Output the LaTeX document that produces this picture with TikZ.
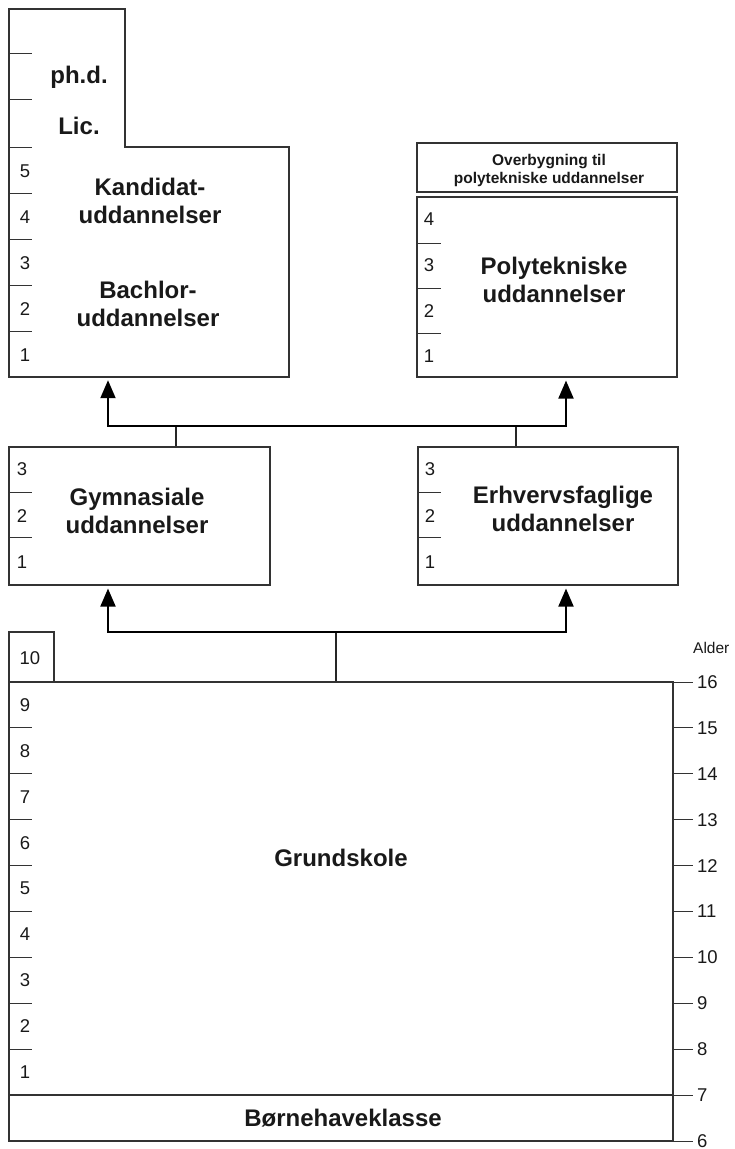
\documentclass[tikz,border=0pt]{standalone}
\usepackage{fontspec}
\setmainfont{Liberation Sans}
\usetikzlibrary{arrows.meta}
\begin{document}
\begin{tikzpicture}[x=1pt,y=-1pt,
  outline/.style={draw=black!80, line width=1.1pt},
  box/.style={outline, rectangle, inner sep=0pt},
  yr/.style={font=\fontsize{18.5}{18.5}\selectfont, text=black!90, inner sep=0pt},
  age/.style={font=\fontsize{18.5}{18.5}\selectfont, text=black!90, inner sep=0pt, anchor=west},
  lbl/.style={font=\bfseries\fontsize{24}{27.5}\selectfont, align=center, text=black!90, inner sep=0pt},
  small/.style={font=\bfseries\fontsize{15.5}{18}\selectfont, align=center, text=black!90, inner sep=0pt},
  tickmark/.style={draw=black!80, line width=0.9pt},
  stem/.style={draw=black!85, line width=1.1pt},
  conn/.style={draw=black, line width=1.9pt},
  arr/.style={conn, -{Triangle[width=15pt,length=18pt]}, shorten >=3pt},
]
\useasboundingbox (0,0) rectangle (735,1149);

% ---------- University: kandidat / bachelor with ph.d. and lic. on top
\node[inner sep=0pt, minimum width=280pt, minimum height=230pt] (uni) at (149,262) {};
\draw[outline] (9,9) -- (125,9) -- (125,147) -- (289,147) -- (289,377) -- (9,377) -- cycle;
\foreach \yy in {53,99,147,193,239,285,331} \draw[tickmark] (9,\yy) -- (32,\yy);
\foreach \n/\yy in {5/171,4/217,3/263,2/309,1/355} \node[yr] (u\n) at (25,\yy) {\n};
\node[lbl] (phd) at (79,77) {ph.d.};
\node[lbl] (lic) at (79,126) {Lic.};
\node[lbl] (kand) at (150,201) {Kandidat-\\uddannelser};
\node[lbl] (bach) at (148,304) {Bachlor-\\uddannelser};

% ---------- Polytechnic programmes
\node[box, minimum width=260pt, minimum height=49pt] (over) at (547,167.5) {};
\node[small] (overtxt) at (549,170.5) {Overbygning til\\polytekniske uddannelser};
\node[box, minimum width=260pt, minimum height=180pt] (poly) at (547,287) {};
\foreach \yy in {243,288,333} \draw[tickmark] (417,\yy) -- (441,\yy);
\foreach \n/\yy in {4/219,3/265,2/311,1/356} \node[yr] (p\n) at (429,\yy) {\n};
\node[lbl] (polytxt) at (554,280) {Polytekniske\\uddannelser};

% ---------- Upper secondary
\node[box, minimum width=261pt, minimum height=138pt] (gym) at (139.5,516) {};
\foreach \yy in {492,537} \draw[tickmark] (9,\yy) -- (32,\yy);
\foreach \n/\yy in {3/469,2/516,1/562} \node[yr] (g\n) at (22,\yy) {\n};
\node[lbl] (gymtxt) at (137,511) {Gymnasiale\\uddannelser};

\node[box, minimum width=260pt, minimum height=138pt] (erh) at (548,516) {};
\foreach \yy in {492,537} \draw[tickmark] (418,\yy) -- (441,\yy);
\foreach \n/\yy in {3/469,2/516,1/562} \node[yr] (e\n) at (430,\yy) {\n};
\node[lbl] (erhtxt) at (563,509) {Erhvervsfaglige\\uddannelser};

% ---------- Primary school and kindergarten class
\node[box, minimum width=45pt, minimum height=50pt] (ten) at (31.5,657) {};
\node[yr] (tentxt) at (30,658) {10};
\node[box, minimum width=664pt, minimum height=413pt] (grund) at (341,888.5) {};
\node[lbl] (grundtxt) at (341,858) {Grundskole};
\node[box, minimum width=664pt, minimum height=46pt] (barn) at (341,1118) {};
\node[lbl] (barntxt) at (343,1118) {Børnehaveklasse};
\foreach \k in {1,...,8} \draw[tickmark] (9,682+45.9*\k) -- (32,682+45.9*\k);
\foreach \n [evaluate=\n as \yy using 682+45.9*(9-\n)+23] in {9,8,...,1}
  \node[yr] (s\n) at (25,\yy) {\n};

% ---------- Age scale
\node[age, font=\fontsize{15.5}{15.5}\selectfont] (alder) at (693,648) {Alder};
\foreach \a [evaluate=\a as \yy using 682+45.9*(16-\a)] in {16,15,...,6} {
  \draw[tickmark] (673,\yy) -- (693,\yy);
  \node[age] (a\a) at (697,\yy) {\a};
}

% ---------- Connectors
\coordinate (busLL) at (108,632);
\coordinate (busLR) at (566,632);
\coordinate (busLM) at (336,632);
\draw[stem] (busLM) -- (busLM |- grund.north);
\draw[arr] (busLR) -- (busLL) -- (busLL |- gym.south);
\draw[arr] (busLL) -- (busLR) -- (busLR |- erh.south);

\coordinate (busUL) at (108,426);
\coordinate (busUR) at (566,426);
\coordinate (busUG) at (176,426);
\coordinate (busUE) at (516,426);
\draw[stem] (busUG |- gym.north) -- (busUG);
\draw[stem] (busUE |- erh.north) -- (busUE);
\draw[arr] (busUR) -- (busUL) -- (busUL |- uni.south);
\draw[arr] (busUL) -- (busUR) -- (busUR |- poly.south);
\end{tikzpicture}
\end{document}
